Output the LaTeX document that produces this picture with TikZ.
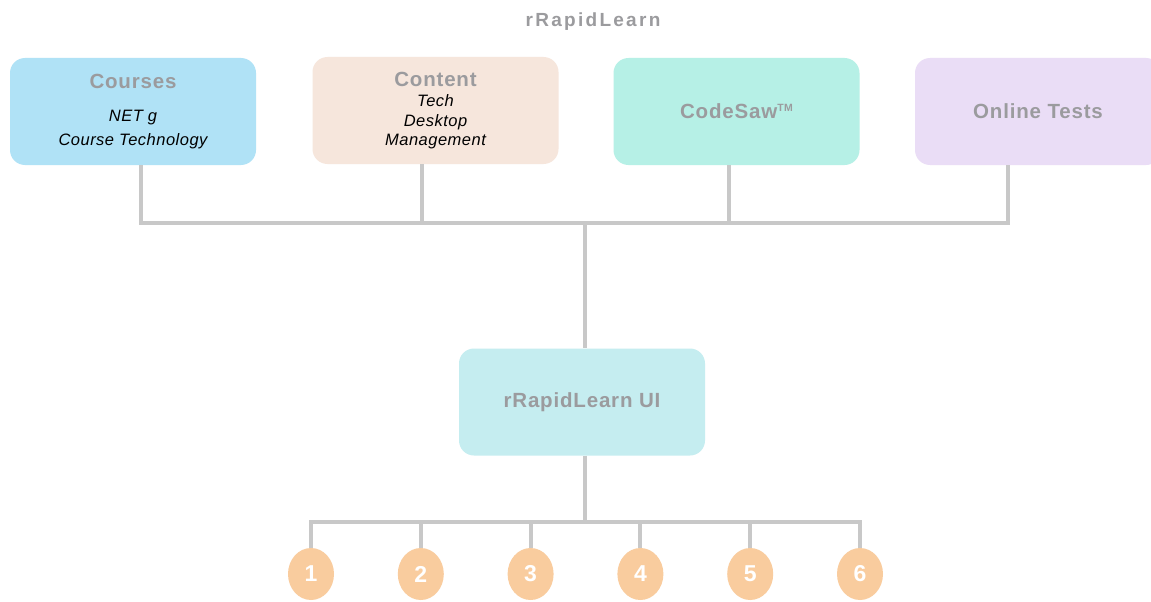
\documentclass[tikz,border=0pt]{standalone}
\usepackage{fontspec}
\setmainfont{Liberation Sans}
\newfontfamily\hdfont[LetterSpace=4]{Liberation Sans}
\newfontfamily\subfont[LetterSpace=3]{Liberation Sans}
\newfontfamily\ttlfont[LetterSpace=12]{Liberation Sans}
\usetikzlibrary{positioning,shapes.geometric}
\definecolor{crs}{RGB}{176,226,246}
\definecolor{cnt}{RGB}{246,230,220}
\definecolor{cds}{RGB}{182,240,230}
\definecolor{tst}{RGB}{234,221,246}
\definecolor{uib}{RGB}{197,237,240}
\definecolor{num}{RGB}{249,204,158}
\definecolor{wirec}{RGB}{200,200,200}
\definecolor{hdg}{RGB}{155,155,158}
\newcommand{\hd}[1]{{\hdfont\bfseries\fontsize{20.5}{21}\selectfont\color{hdg}#1}}
\newcommand{\sub}[1]{{\subfont\itshape #1}}
\newcommand{\tmark}{\raisebox{7pt}{\fontsize{10.5}{11}\selectfont TM}}

\begin{document}
\begin{tikzpicture}[x=1pt,y=-1pt,
  font=\fontsize{16.5}{21}\selectfont,
  box/.style={rounded corners=15pt,minimum width=246pt,minimum height=107pt,align=center,inner sep=0pt},
  wire/.style={draw=wirec,line width=4pt},
  numb/.style={ellipse,fill=num,minimum width=46pt,minimum height=52pt,inner sep=0pt,
    text=white,font=\bfseries\fontsize{23}{24}\selectfont}]
  \clip (0,0) rectangle (1151,602);
  \fill[white] (0,0) rectangle (1151,602);
  \node[font=\ttlfont\bfseries\fontsize{19}{21}\selectfont,text=hdg] (title) at (593,22) {rRapidLearn};
  % source boxes
  \node[box,fill=crs] (courses) at (133,111.5)
    {\hd{Courses}\\[12pt]\sub{NET g}\\[3pt]\sub{Course Technology}};
  \node[box,fill=cnt] (content) at (435.5,110.5)
    {\hd{Content}\\[-1pt]\sub{Tech}\\[-1pt]\sub{Desktop}\\[-2pt]\sub{Management}};
  \node[box,fill=cds] (codesaw) at (736.5,111.5) {\hd{CodeSaw\tmark}};
  \node[box,fill=tst] (tests) at (1038,111.5) {\hd{Online Tests}};
  \node[box,fill=uib] (ui) at (582,402) {\hd{rRapidLearn UI}};
  \coordinate (bus) at (585,223);
  \coordinate (hub) at (585,522);
  \draw[wire] ([xshift=8pt]courses.south) |- (bus) -- (ui.north -| bus);
  \draw[wire] ([xshift=-14pt]content.south) |- (bus);
  \draw[wire] ([xshift=-8pt]codesaw.south) |- (bus);
  \draw[wire] ([xshift=-30pt]tests.south) |- (bus);
  \draw[wire] (ui.south -| hub) -- (hub);
  % numbered outputs
  \foreach \i in {1,...,6}{
    \node[numb] (n\i) at ({311+109.8*(\i-1)},574) {\i};
    \draw[wire] (n\i.north) |- (hub);
  }
\end{tikzpicture}
\end{document}
